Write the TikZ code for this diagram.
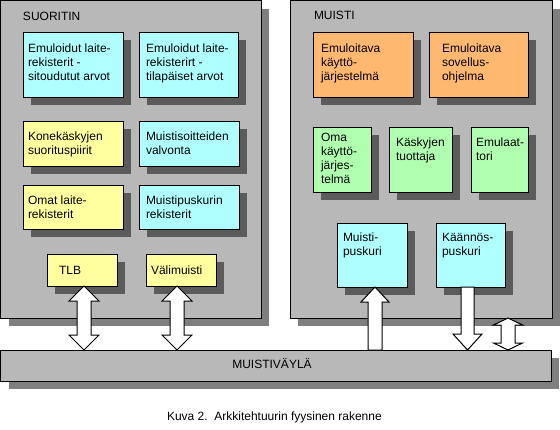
\documentclass[tikz,border=0pt]{standalone}
\usepackage{fontspec}
\setmainfont{Liberation Sans}
\usetikzlibrary{shadows,calc}
\definecolor{panelgray}{RGB}{184,184,184}
\definecolor{boxcyan}{RGB}{176,255,255}
\definecolor{boxyellow}{RGB}{255,255,160}
\definecolor{boxorange}{RGB}{255,184,112}
\definecolor{boxgreen}{RGB}{176,255,176}
\newcommand\txtlines[1]{\begin{tabular}[t]{@{}l@{}}#1\end{tabular}}
% box: name, colour, left, top, right, bottom
\newcommand\bx[6]{\node[boxstyle,fill=#2,minimum width={#5-#3},minimum height={#6-#4}] (#1) at (#3,#4) {};}
% block arrows: top point, bottom point, head length, head half width, shaft half width
\newcommand\dblarr[5]{\draw[blockarrow] let \p1=#1, \p2=#2 in
 (\x1,\y1) -- ({\x1+#4pt},{\y1-#3pt}) -- ({\x1+#5pt},{\y1-#3pt}) -- ({\x1+#5pt},{\y2+#3pt}) -- ({\x1+#4pt},{\y2+#3pt}) -- (\x1,\y2) -- ({\x1-#4pt},{\y2+#3pt}) -- ({\x1-#5pt},{\y2+#3pt}) -- ({\x1-#5pt},{\y1-#3pt}) -- ({\x1-#4pt},{\y1-#3pt}) -- cycle;}
\newcommand\uparr[5]{\draw[blockarrow] let \p1=#1, \p2=#2 in
 (\x1,\y1) -- ({\x1+#4pt},{\y1-#3pt}) -- ({\x1+#5pt},{\y1-#3pt}) -- ({\x1+#5pt},\y2) -- ({\x1-#5pt},\y2) -- ({\x1-#5pt},{\y1-#3pt}) -- ({\x1-#4pt},{\y1-#3pt}) -- cycle;}
\newcommand\downarr[5]{\draw[blockarrow] let \p1=#1, \p2=#2 in
 ({\x1-#5pt},\y1) -- ({\x1+#5pt},\y1) -- ({\x1+#5pt},{\y2+#3pt}) -- ({\x1+#4pt},{\y2+#3pt}) -- (\x1,\y2) -- ({\x1-#4pt},{\y2+#3pt}) -- ({\x1-#5pt},{\y2+#3pt}) -- cycle;}
\begin{document}
\begin{tikzpicture}[x=1pt,y=-1pt,
  every node/.style={inner sep=0pt,outer sep=0pt},
  shad/.style={drop shadow={shadow xshift=8pt,shadow yshift=-8pt,fill=black,opacity=0.5}},
  boxstyle/.style={draw=black,line width=1pt,shad,anchor=north west},
  lbl/.style={anchor=base west,font=\fontsize{12}{14}\selectfont},
  blockarrow/.style={draw=black,fill=white,line width=1pt,line join=miter}]
\useasboundingbox[fill=white] (0,0) rectangle (560,429);
% panels and bus
\bx{p1}{panelgray}{0.5}{0.5}{261}{318}
\bx{p2}{panelgray}{290}{0.5}{552}{318}
\bx{bus}{panelgray}{0.5}{350}{551}{381}
\node[lbl] (p1lbl) at (23,20) {SUORITIN};
\node[lbl] (p2lbl) at (314,19) {MUISTI};
\node[lbl,anchor=base] (buslbl) at (272,368) {MUISTIVÄYLÄ};
% SUORITIN boxes
\bx{b1}{boxcyan}{23}{32}{123}{97}
\bx{b2}{boxcyan}{139}{32}{238}{97}
\bx{b3}{boxyellow}{23}{121}{123}{166}
\bx{b4}{boxcyan}{139}{121}{239}{166}
\bx{b5}{boxyellow}{23}{185}{123}{229}
\bx{b6}{boxcyan}{139}{185}{239}{229}
\bx{tlb}{boxyellow}{47}{254}{117}{286}
\bx{vali}{boxyellow}{146}{254}{216}{286}
\node[lbl] (t1) at (28,52) {\txtlines{Emuloidut laite-\\rekisterit -\\sitoudutut arvot}};
\node[lbl] (t2) at (146,52) {\txtlines{Emuloidut laite-\\rekisterirt -\\tilapäiset arvot}};
\node[lbl] (t3) at (28,140) {\txtlines{Konekäskyjen\\suorituspiirit}};
\node[lbl] (t4) at (146,140) {\txtlines{Muistisoitteiden\\valvonta}};
\node[lbl] (t5) at (28,204) {\txtlines{Omat laite-\\rekisterit}};
\node[lbl] (t6) at (146,204) {\txtlines{Muistipuskurin\\rekisterit}};
\node[lbl] (t7) at (59,274) {TLB};
\node[lbl] (t8) at (151,274) {Välimuisti};
% MUISTI boxes
\bx{o1}{boxorange}{313}{32}{413}{97}
\bx{o2}{boxorange}{429}{32}{528}{97}
\bx{g1}{boxgreen}{313}{127}{371}{192}
\bx{g2}{boxgreen}{389}{127}{452}{192}
\bx{g3}{boxgreen}{471}{127}{528}{192}
\bx{m1}{boxcyan}{337}{223}{407}{287}
\bx{m2}{boxcyan}{436}{223}{505}{287}
\node[lbl] (u1) at (321,52) {\txtlines{Emuloitava\\käyttö-\\järjestelmä}};
\node[lbl] (u2) at (442,52) {\txtlines{Emuloitava\\sovellus-\\ohjelma}};
\node[lbl] (u3) at (321,141) {\txtlines{Oma\\käyttö-\\järjes-\\telmä}};
\node[lbl] (u4) at (396,146) {\txtlines{Käskyjen\\tuottaja}};
\node[lbl] (u5) at (476,146) {\txtlines{Emulaat-\\tori}};
\node[lbl] (u6) at (343,241) {\txtlines{Muisti-\\puskuri}};
\node[lbl] (u7) at (442,241) {\txtlines{Käännös-\\puskuri}};
% arrows
\dblarr{(84,0 |- tlb.south)}{(84,0 |- bus.north)}{15}{15}{7}
\dblarr{(177,0 |- vali.south)}{(177,0 |- bus.north)}{15}{15}{7}
\uparr{(375,0 |- m1.south)}{(375,0 |- bus.north)}{15}{14}{7}
\downarr{(467.5,0 |- m2.south)}{(467.5,0 |- bus.north)}{16}{14.5}{6.5}
\dblarr{(508,0 |- p2.south)}{(508,0 |- bus.north)}{7}{14.5}{7}
% caption
\node[lbl] (cap) at (167,420) {Kuva 2.\ \ Arkkitehtuurin fyysinen rakenne};
\end{tikzpicture}
\end{document}
